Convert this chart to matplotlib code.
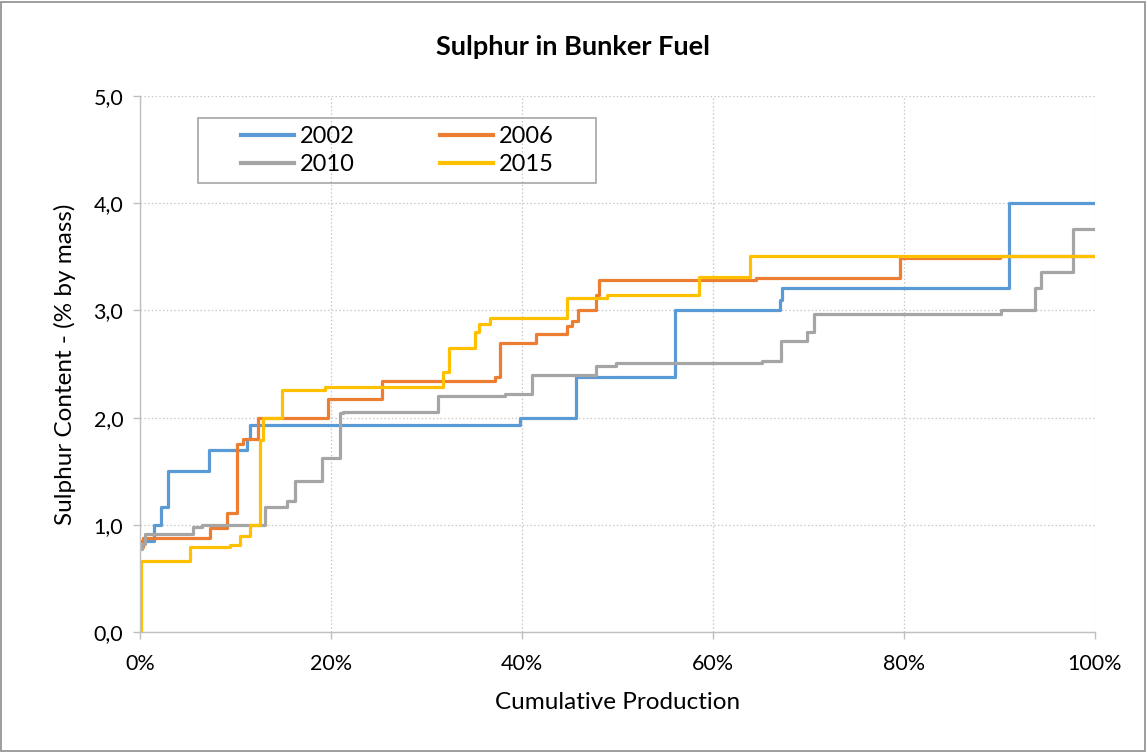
import matplotlib
matplotlib.use("Agg")
import matplotlib.pyplot as plt
from matplotlib.ticker import FuncFormatter, MultipleLocator

plt.rcParams['font.family'] = ['Lato', 'DejaVu Sans']

# cumulative production (%) where each step starts, and sulphur content (% by mass)
x_2002 = [0, 1.5, 2.2, 2.9, 7.2, 11.2, 11.5, 39.8, 45.7, 56.0, 67.0, 67.2, 91.0, 100]
y_2002 = [0.85, 1.0, 1.17, 1.5, 1.7, 1.8, 1.93, 2.0, 2.38, 3.0, 3.1, 3.21, 4.0, 4.0]

x_2006 = [0, 0.3, 7.3, 9.1, 10.2, 10.8, 12.4, 19.7, 25.3, 37.2, 37.7, 41.5, 44.7, 45.2,
          45.9, 47.7, 48.1, 64.5, 79.6, 90.0, 100]
y_2006 = [0.79, 0.88, 0.97, 1.11, 1.75, 1.8, 2.0, 2.17, 2.34, 2.38, 2.70, 2.78, 2.85, 2.9,
          3.0, 3.14, 3.28, 3.30, 3.49, 3.51, 3.51]

x_2010 = [0, 0.2, 0.5, 5.5, 6.5, 13.1, 15.4, 16.2, 19.1, 20.9, 21.3, 31.2, 38.2, 41.0,
          47.7, 49.8, 65.1, 67.1, 69.8, 70.6, 90.2, 93.7, 94.3, 97.7, 100]
y_2010 = [0.77, 0.82, 0.91, 0.98, 1.0, 1.17, 1.22, 1.41, 1.62, 2.04, 2.05, 2.20, 2.22, 2.40,
          2.48, 2.51, 2.53, 2.71, 2.80, 2.97, 3.0, 3.21, 3.36, 3.76, 3.76]

x_2015 = [0, 0.1, 5.2, 9.4, 10.5, 11.5, 12.6, 12.9, 14.9, 19.4, 31.7, 32.4, 35.1, 35.5,
          36.6, 44.7, 48.9, 58.5, 63.9, 100]
y_2015 = [0.0, 0.66, 0.79, 0.81, 0.90, 1.0, 1.79, 2.0, 2.26, 2.29, 2.43, 2.65, 2.80, 2.87,
          2.93, 3.12, 3.14, 3.31, 3.51, 3.51]

series = [
    ("2002", x_2002, y_2002, "#5B9BD5"),
    ("2006", x_2006, y_2006, "#ED7D31"),
    ("2010", x_2010, y_2010, "#A5A5A5"),
    ("2015", x_2015, y_2015, "#FFC000"),
]

W, H = 1146, 752
fig = plt.figure(figsize=(W / 100, H / 100), dpi=100)
fig.patches.append(plt.Rectangle((0.001, 0.001), 0.998, 0.997, transform=fig.transFigure,
                                 fill=False, edgecolor="#8c8c8c", linewidth=1.2))
ax = fig.add_axes([140 / W, 1 - 632 / H, 955 / W, 536 / H])

lines = {}
for name, xs, ys, col in series:
    lines[name], = ax.step([v / 100 for v in xs], ys, where="post", color=col, lw=2.3,
                           label=name)

ax.set_xlim(0, 1)
ax.set_ylim(0, 5)
ax.xaxis.set_major_locator(MultipleLocator(0.2))
ax.yaxis.set_major_locator(MultipleLocator(1))
ax.xaxis.set_major_formatter(FuncFormatter(lambda v, p: f"{v * 100:.0f}%"))
ax.yaxis.set_major_formatter(FuncFormatter(lambda v, p: f"{v:.1f}".replace(".", ",")))
ax.grid(True, color="#c8c8c8", linestyle=(0, (1.2, 1.8)), linewidth=0.9)
ax.set_axisbelow(True)
for s in ["top", "right"]:
    ax.spines[s].set_visible(False)
for s in ["left", "bottom"]:
    ax.spines[s].set_color("#bfbfbf")
    ax.spines[s].set_linewidth(1.0)
ax.tick_params(axis="both", colors="#bfbfbf", labelcolor="black", labelsize=15.5, length=5,
               width=1.0)
ax.tick_params(axis="x", pad=11)
ax.tick_params(axis="y", pad=7)

ax.set_xlabel("Cumulative Production", fontsize=17.5, labelpad=13)
ax.set_ylabel("Sulphur Content - (% by mass)", fontsize=17.5, labelpad=13)
fig.text(0.5, 1 - 47 / H, "Sulphur in Bunker Fuel", ha="center", va="center",
         fontsize=19.5, fontweight="bold")

# legend in rows: 2002 2006 / 2010 2015 (matplotlib fills column-first)
order = ["2002", "2010", "2006", "2015"]
leg = ax.legend([lines[k] for k in order], order, ncol=2, loc="center",
                bbox_to_anchor=((397 - 140) / 955, 1 - (150.5 - 96) / 536), fontsize=17,
                frameon=False, handlelength=2.25, columnspacing=3.6,
                handletextpad=0.25, labelspacing=0.3)
for h in leg.get_lines():
    h.set_linewidth(3.0)
fig.patches.append(plt.Rectangle((198 / W, 1 - 183 / H), 398 / W, 65 / H,
                                 transform=fig.transFigure, fill=False,
                                 edgecolor="#a6a6a6", linewidth=1.2))

fig.savefig("out.png", dpi=100)
